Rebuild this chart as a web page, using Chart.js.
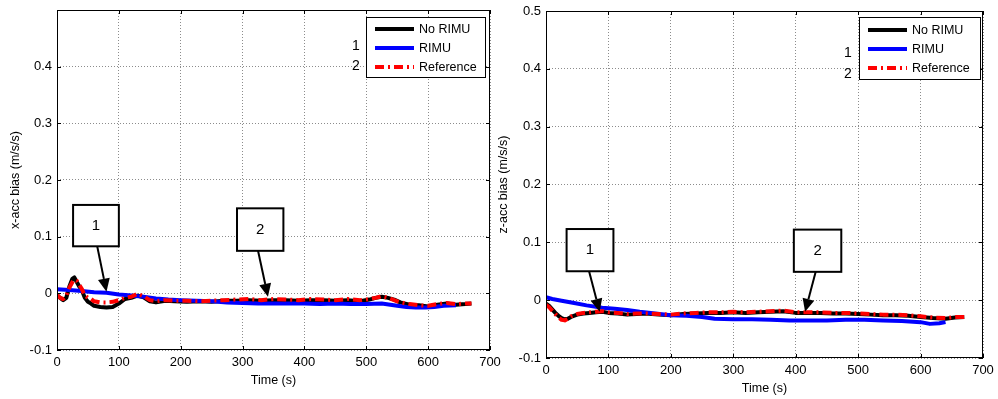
<!DOCTYPE html>
<html>
<head>
<meta charset="utf-8">
<script src="https://cdn.jsdelivr.net/npm/chart.js@4.4.0/dist/chart.umd.min.js"></script>
<style>
  body { margin: 0; background: #fff; }
  canvas { position: absolute; top: 0; }
</style>
</head>
<body>
<canvas id="xAccChart" width="505" height="399" style="left:0"></canvas>
<canvas id="zAccChart" width="503" height="399" style="left:495px"></canvas>
<script>
// ---- x-acc bias (left plot) ----
const xTime = [0, 5, 10, 15, 20, 25, 28, 32, 36, 40, 45, 50, 55, 60, 70, 80, 90, 100, 110, 120, 130, 140, 150, 160, 175, 190,
  210, 230, 250, 270, 290, 310, 330, 350, 370, 390, 410, 430, 450, 470, 490, 505, 515, 525, 535, 545, 555, 570, 585, 600,
  615, 630, 645, 660, 670];
const xNoRimu = [-0.003, -0.008, -0.012, -0.008, 0.012, 0.026, 0.028, 0.020, 0.012, 0.006, -0.008, -0.015, -0.018, -0.022,
  -0.024, -0.025, -0.024, -0.018, -0.010, -0.008, -0.004, -0.007, -0.014, -0.016, -0.013, -0.014, -0.015, -0.014, -0.015,
  -0.013, -0.013, -0.012, -0.013, -0.012, -0.012, -0.013, -0.012, -0.012, -0.013, -0.012, -0.014, -0.011, -0.008, -0.006,
  -0.008, -0.011, -0.016, -0.020, -0.021, -0.023, -0.020, -0.018, -0.020, -0.019, -0.018];
const xReference = [-0.003, -0.008, -0.010, -0.004, 0.010, 0.020, 0.024, 0.022, 0.015, 0.008, -0.004, -0.008, -0.010, -0.014,
  -0.016, -0.016, -0.015, -0.012, -0.008, -0.006, -0.001, -0.005, -0.012, -0.014, -0.012, -0.013, -0.013, -0.014, -0.013,
  -0.012, -0.011, -0.010, -0.012, -0.010, -0.011, -0.012, -0.010, -0.011, -0.012, -0.010, -0.012, -0.010, -0.008, -0.005,
  -0.008, -0.012, -0.016, -0.019, -0.021, -0.022, -0.019, -0.017, -0.019, -0.018, -0.018];
const xRimuTime = [0, 20, 40, 60, 80, 100, 120, 140, 160, 180, 200, 225, 250, 275, 300, 325, 350, 375, 400, 425, 450, 475,
  500, 525, 550, 565, 580, 595, 610, 625, 645];
const xRimu = [0.007, 0.006, 0.004, 0.002, 0.001, -0.002, -0.004, -0.006, -0.009, -0.011, -0.012, -0.013, -0.014, -0.016,
  -0.017, -0.018, -0.018, -0.018, -0.018, -0.019, -0.018, -0.019, -0.019, -0.018, -0.022, -0.024, -0.025, -0.025, -0.024,
  -0.022, -0.021];

// ---- z-acc bias (right plot) ----
const zTime = [0, 5, 10, 15, 20, 25, 30, 35, 40, 50, 60, 70, 80, 90, 100, 115, 130, 145, 160, 180, 200, 220, 240, 260, 280,
  300, 320, 340, 360, 380, 400, 420, 440, 460, 480, 500, 520, 540, 560, 580, 600, 620, 640, 655, 670];
const zNoRimu = [-0.006, -0.010, -0.016, -0.022, -0.027, -0.031, -0.033, -0.032, -0.029, -0.025, -0.023, -0.022, -0.021,
  -0.020, -0.022, -0.023, -0.025, -0.024, -0.023, -0.025, -0.026, -0.024, -0.023, -0.022, -0.022, -0.021, -0.022, -0.021,
  -0.020, -0.019, -0.022, -0.022, -0.022, -0.023, -0.023, -0.024, -0.025, -0.026, -0.026, -0.027, -0.029, -0.031, -0.032,
  -0.030, -0.029];
const zReference = [-0.008, -0.012, -0.018, -0.024, -0.030, -0.034, -0.035, -0.032, -0.028, -0.024, -0.022, -0.021, -0.020,
  -0.019, -0.021, -0.022, -0.024, -0.023, -0.023, -0.024, -0.025, -0.023, -0.022, -0.021, -0.021, -0.020, -0.021, -0.020,
  -0.019, -0.018, -0.021, -0.021, -0.021, -0.022, -0.022, -0.023, -0.024, -0.025, -0.025, -0.026, -0.028, -0.030, -0.031,
  -0.029, -0.029];
const zRimuTime = [0, 10, 25, 45, 65, 90, 110, 130, 150, 175, 200, 225, 250, 270, 300, 330, 360, 390, 420, 450, 480, 510,
  540, 570, 600, 615, 630, 640];
const zRimu = [0.005, 0.002, -0.001, -0.005, -0.009, -0.013, -0.015, -0.017, -0.020, -0.023, -0.026, -0.027, -0.029, -0.032,
  -0.033, -0.033, -0.034, -0.035, -0.035, -0.035, -0.034, -0.034, -0.035, -0.036, -0.038, -0.041, -0.040, -0.038];

const seriesLabels = ['No RIMU', 'RIMU', 'Reference'];
const timeTicks = [0, 100, 200, 300, 400, 500, 600, 700];
const biasTicks = [-0.1, 0, 0.1, 0.2, 0.3, 0.4, 0.5];

const FONT = 'Liberation Sans, Arial, sans-serif';

function zip(ts, vs) {
  return ts.map((t, i) => ({ x: t, y: vs[i] }));
}

function series(label, ts, vs, color, dash, order) {
  return {
    label: label,
    data: zip(ts, vs),
    borderColor: color,
    backgroundColor: color,
    borderWidth: 4,
    borderDash: dash,
    borderJoinStyle: 'round',
    pointRadius: 0,
    tension: 0,
    order: order
  };
}

// frame, inward ticks, legend box and the numbered call-outs
const matlabDecor = {
  id: 'matlabDecor',
  afterDatasetsDraw(chart, args, o) {
    const { ctx, chartArea: a, scales: { x, y } } = chart;
    ctx.save();

    // axes box with inward tick marks
    ctx.strokeStyle = '#000';
    ctx.lineWidth = 1;
    ctx.setLineDash([]);
    ctx.strokeRect(a.left + 0.5, a.top + 0.5, a.right - a.left - 1, a.bottom - a.top - 1);
    ctx.beginPath();
    timeTicks.forEach(t => {
      const px = Math.round(x.getPixelForValue(t)) + 0.5;
      ctx.moveTo(px, a.bottom); ctx.lineTo(px, a.bottom - 4);
      ctx.moveTo(px, a.top); ctx.lineTo(px, a.top + 4);
    });
    biasTicks.forEach(v => {
      const py = Math.round(y.getPixelForValue(v)) + 0.5;
      ctx.moveTo(a.left, py); ctx.lineTo(a.left + 4, py);
      ctx.moveTo(a.right, py); ctx.lineTo(a.right - 4, py);
    });
    ctx.stroke();

    // call-out boxes with arrows
    ctx.font = '15px ' + FONT;
    ctx.textAlign = 'center';
    ctx.textBaseline = 'middle';
    o.callouts.forEach(c => {
      const x0 = x.getPixelForValue(c.box[0]), y0 = y.getPixelForValue(c.box[1]);
      const x1 = x.getPixelForValue(c.box[2]), y1 = y.getPixelForValue(c.box[3]);
      const tx = x.getPixelForValue(c.tail[0]), ty = y.getPixelForValue(c.tail[1]);
      const hx = x.getPixelForValue(c.tip[0]), hy = y.getPixelForValue(c.tip[1]);
      ctx.fillStyle = '#fff';
      ctx.fillRect(x0, y0, x1 - x0, y1 - y0);
      ctx.lineWidth = 2;
      ctx.strokeStyle = '#000';
      ctx.strokeRect(x0, y0, x1 - x0, y1 - y0);
      ctx.fillStyle = '#000';
      ctx.fillText(c.text, (x0 + x1) / 2, (y0 + y1) / 2);
      const ang = Math.atan2(hy - ty, hx - tx);
      const hl = 13, hw = 6;
      const bx = hx - hl * Math.cos(ang), by = hy - hl * Math.sin(ang);
      ctx.beginPath();
      ctx.moveTo(tx, ty); ctx.lineTo(bx, by);
      ctx.stroke();
      ctx.beginPath();
      ctx.moveTo(hx, hy);
      ctx.lineTo(bx + hw * Math.sin(ang), by - hw * Math.cos(ang));
      ctx.lineTo(bx - hw * Math.sin(ang), by + hw * Math.cos(ang));
      ctx.closePath();
      ctx.fill();
    });

    // legend
    const lg = o.legend;
    const bx0 = a.right - lg.right - lg.width, by0 = a.top + lg.top;
    ctx.fillStyle = '#fff';
    ctx.fillRect(bx0, by0, lg.width, lg.height);
    ctx.lineWidth = 1;
    ctx.strokeStyle = '#000';
    ctx.strokeRect(bx0 + 0.5, by0 + 0.5, lg.width, lg.height);
    ctx.font = '12.5px ' + FONT;
    ctx.textAlign = 'left';
    chart.data.datasets.forEach((ds, i) => {
      const ry = by0 + lg.rows[i];
      ctx.strokeStyle = ds.borderColor;
      ctx.lineWidth = 4;
      ctx.setLineDash(ds.borderDash || []);
      ctx.beginPath();
      ctx.moveTo(bx0 + 9, ry); ctx.lineTo(bx0 + 48, ry);
      ctx.stroke();
      ctx.setLineDash([]);
      ctx.fillStyle = '#000';
      ctx.fillText(ds.label, bx0 + 53, ry + 1);
    });
    ctx.font = '14px ' + FONT;
    ctx.textAlign = 'center';
    lg.notes.forEach(n => ctx.fillText(n.text, bx0 + n.dx, by0 + n.dy));
    ctx.restore();
  }
};

function buildChart(id, cfg) {
  const tickFont = { family: FONT, size: 13 };
  return new Chart(document.getElementById(id), {
    type: 'line',
    data: {
      datasets: [
        series(seriesLabels[0], cfg.time, cfg.noRimu, '#000000', [], 2),
        series(seriesLabels[1], cfg.rimuTime, cfg.rimu, '#0000ff', [], 1),
        series(seriesLabels[2], cfg.time, cfg.reference, '#ff0000', [9, 4, 2, 4], 0)
      ]
    },
    options: {
      responsive: false,
      animation: false,
      layout: { padding: cfg.padding },
      plugins: {
        legend: { display: false },
        tooltip: { enabled: false },
        matlabDecor: { legend: cfg.legend, callouts: cfg.callouts }
      },
      scales: {
        x: {
          type: 'linear',
          min: 0,
          max: 700,
          afterBuildTicks: s => { s.ticks = timeTicks.map(v => ({ value: v })); },
          afterFit: s => { s.height = cfg.xAxisHeight; s.paddingLeft = 0; s.paddingRight = 0; },
          grid: { color: '#8c8c8c', lineWidth: 1, drawTicks: false },
          border: { display: false, dash: [1, 2] },
          ticks: { color: '#000', font: tickFont, padding: cfg.xTickPad, maxRotation: 0, autoSkip: false },
          title: {
            display: true, text: 'Time (s)', color: '#000',
            font: { family: FONT, size: 12.5 }, padding: { top: 0, bottom: cfg.xTitlePad }
          }
        },
        y: {
          min: -0.1,
          max: 0.5,
          afterBuildTicks: s => { s.ticks = biasTicks.map(v => ({ value: v })); },
          afterFit: s => { s.width = cfg.yAxisWidth; s.paddingTop = 0; s.paddingBottom = 0; },
          grid: { color: '#8c8c8c', lineWidth: 1, drawTicks: false },
          border: { display: false, dash: [1, 2] },
          ticks: {
            color: '#000', font: tickFont, padding: 5,
            callback: v => (cfg.hideTopLabel && v > 0.45) ? '' : String(+v.toFixed(1))
          },
          title: {
            display: true, text: cfg.yTitle, color: '#000',
            font: { family: FONT, size: 12.5 }, padding: { top: cfg.yTitlePad, bottom: 0 }
          }
        }
      }
    },
    plugins: [matlabDecor]
  });
}

buildChart('xAccChart', {
  time: xTime, noRimu: xNoRimu, reference: xReference, rimuTime: xRimuTime, rimu: xRimu,
  yTitle: 'x-acc bias (m/s/s)',
  hideTopLabel: true,
  padding: { left: 0, top: 10, right: 15, bottom: 0 },
  yAxisWidth: 57, xAxisHeight: 49, xTickPad: 5, xTitlePad: 11, yTitlePad: 8,
  legend: {
    right: 5, top: 7, width: 119, height: 60, rows: [12, 31, 50],
    notes: [{ text: '1', dx: -10, dy: 29 }, { text: '2', dx: -10, dy: 49 }]
  },
  callouts: [
    { text: '1', box: [26, 0.156, 100, 0.083], tail: [65, 0.083], tip: [80, 0.003] },
    { text: '2', box: [291, 0.150, 366, 0.075], tail: [325, 0.075], tip: [341, -0.006] }
  ]
});

buildChart('zAccChart', {
  time: zTime, noRimu: zNoRimu, reference: zReference, rimuTime: zRimuTime, rimu: zRimu,
  yTitle: 'z-acc bias (m/s/s)',
  hideTopLabel: false,
  padding: { left: 0, top: 11, right: 15, bottom: 0 },
  yAxisWidth: 51, xAxisHeight: 41, xTickPad: 5, xTitlePad: 3, yTitlePad: 1,
  legend: {
    right: 3, top: 6, width: 121, height: 62, rows: [13, 32, 51],
    notes: [{ text: '1', dx: -11, dy: 36 }, { text: '2', dx: -11, dy: 57 }]
  },
  callouts: [
    { text: '1', box: [33, 0.123, 108, 0.050], tail: [69, 0.050], tip: [86, -0.020] },
    { text: '2', box: [397, 0.122, 473, 0.049], tail: [432, 0.049], tip: [415, -0.020] }
  ]
});
</script>
</body>
</html>
